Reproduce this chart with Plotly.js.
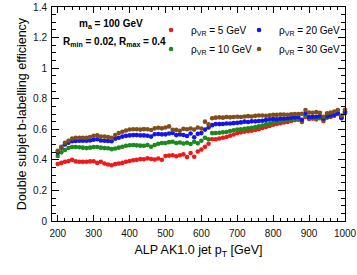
<!DOCTYPE html>
<html>
<head>
<meta charset="utf-8">
<script src="https://cdn.plot.ly/plotly-3.0.1.min.js"></script>
<style>html,body{margin:0;padding:0;background:#fff;}#chart{width:357px;height:275px;}</style>
</head>
<body>
<div id="chart"></div>
<script>
const pT = [200,210,220,230,240,250,260,270,280,290,300,310,320,330,340,350,360,370,380,390,400,410,420,430,440,450,460,470,480,490,500,510,520,530,540,550,560,570,580,590,600,610,620,630,640,650,660,670,680,690,700,710,720,730,740,750,760,770,780,790,800,810,820,830,840,850,860,870,880,890,900,910,920,930,940,950,960,970,980,990,1000];

const eff5 = [.373,.380,.388,.392,.400,.390,.388,.387,.388,.390,.391,.380,.388,.376,.370,.365,.372,.376,.380,.388,.393,.397,.400,.405,.404,.410,.406,.402,.409,.400,.425,.428,.430,.424,.430,.436,.418,.445,.420,.455,.468,.485,.505,.535,.535,.540,.545,.550,.558,.566,.575,.580,.585,.588,.590,.595,.600,.608,.615,.622,.630,.635,.640,.645,.648,.655,.660,.662,.648,.680,.668,.670,.665,.672,.655,.675,.680,.688,.700,.678,.705];

const eff10 = [.425,.449,.464,.478,.484,.484,.482,.480,.477,.480,.484,.484,.480,.477,.476,.470,.474,.480,.486,.492,.496,.497,.495,.493,.492,.497,.486,.497,.505,.510,.510,.516,.518,.510,.514,.507,.512,.504,.518,.508,.525,.545,.535,.575,.576,.577,.580,.582,.588,.594,.598,.600,.603,.606,.610,.615,.620,.625,.632,.638,.645,.650,.655,.658,.660,.663,.665,.668,.658,.688,.672,.675,.670,.677,.662,.680,.685,.692,.702,.680,.710];

const eff20 = [.449,.480,.500,.512,.522,.523,.525,.525,.525,.527,.532,.535,.527,.525,.523,.522,.538,.545,.552,.557,.560,.562,.562,.560,.560,.558,.552,.568,.569,.567,.567,.572,.576,.562,.566,.563,.556,.572,.548,.570,.575,.598,.612,.627,.634,.634,.635,.638,.638,.640,.642,.645,.650,.648,.652,.652,.654,.656,.660,.665,.668,.666,.670,.670,.672,.675,.678,.680,.662,.703,.680,.682,.682,.686,.670,.686,.690,.696,.706,.672,.716];

const eff30 = [.460,.486,.512,.525,.540,.545,.545,.545,.545,.550,.557,.560,.552,.552,.550,.545,.562,.576,.584,.592,.599,.600,.600,.598,.601,.600,.595,.606,.610,.606,.612,.619,.597,.596,.590,.603,.600,.605,.598,.612,.605,.650,.632,.672,.676,.678,.676,.680,.678,.680,.682,.680,.684,.686,.684,.688,.690,.690,.688,.692,.695,.694,.697,.697,.695,.698,.700,.700,.702,.726,.710,.708,.712,.708,.682,.705,.710,.716,.726,.690,.728];

const seriesNames = ['ρ<sub>VR</sub> = 5 GeV','ρ<sub>VR</sub> = 10 GeV','ρ<sub>VR</sub> = 20 GeV','ρ<sub>VR</sub> = 30 GeV'];
const seriesData = [eff5, eff10, eff20, eff30];
const seriesColors = ['#f01818','#1a8a1a','#1414f0','#7f4f16'];
const legendGroups = ['left', 'left', 'right', 'right'];
const legendWidths = [43, 43, 64, 64];

const FONT = 'Liberation Sans, Arial, Helvetica, sans-serif';

const traces = seriesData.map((y, i) => ({
  type: 'scatter', mode: 'markers',
  x: pT, y: y, name: seriesNames[i],
  legendgroup: legendGroups[i],
  legendwidth: legendWidths[i],
  cliponaxis: false,
  marker: {color: seriesColors[i], size: 4.6, symbol: 'circle', line: {width: 0}}
}));

const axisCommon = {
  showline: true, linecolor: '#000', linewidth: 1, mirror: 'allticks',
  ticks: 'inside', tickcolor: '#000', tickwidth: 1,
  showgrid: false, zeroline: false,
  tickfont: {family: FONT, size: 10, color: '#111'}
};

const layout = {
  width: 357, height: 275,
  margin: {l: 52, r: 12, t: 7, b: 54, autoexpand: false},
  paper_bgcolor: '#fff', plot_bgcolor: '#fff',
  showlegend: true,
  legend: {
    x: 0.338, xanchor: 'left', y: 0.96, yanchor: 'top',
    orientation: 'h',
    traceorder: 'grouped', tracegroupgap: 0,
    bgcolor: 'rgba(0,0,0,0)', borderwidth: 0,
    font: {family: FONT, size: 10, color: '#000'}
  },
  xaxis: Object.assign({}, axisCommon, {
    range: [184, 1000], dtick: 100, tick0: 0, ticklen: 6,
    ticklabelstandoff: 3, automargin: false,
    minor: {ticks: 'inside', dtick: 20, ticklen: 3, tickcolor: '#000', showgrid: false},
    title: {text: 'ALP AK1.0 jet p<sub>T</sub> [GeV]', font: {family: FONT, size: 12.5, color: '#000'}, standoff: 7}
  }),
  yaxis: Object.assign({}, axisCommon, {
    range: [0, 1.4], dtick: 0.2, tick0: 0, ticklen: 7,
    ticklabelstandoff: 2, automargin: false,
    minor: {ticks: 'inside', dtick: 0.05, ticklen: 4, tickcolor: '#000', showgrid: false},
    title: {text: 'Double subjet b-labelling efficiency', font: {family: FONT, size: 12.5, color: '#000'}, standoff: 3}
  }),
  annotations: [
    {xref: 'paper', yref: 'paper', x: 0.203, y: 0.9206, xanchor: 'center', yanchor: 'middle', showarrow: false,
     text: '<b>m<sub>a</sub> = 100 GeV</b>', font: {family: FONT, size: 10, color: '#000'}},
    {xref: 'paper', yref: 'paper', x: 0.212, y: 0.8364, xanchor: 'center', yanchor: 'middle', showarrow: false,
     text: '<b>R<sub>min</sub> = 0.02, R<sub>max</sub> = 0.4</b>', font: {family: FONT, size: 10, color: '#000'}}
  ]
};

Plotly.newPlot('chart', traces, layout, {staticPlot: true, displayModeBar: false});
</script>
</body>
</html>
